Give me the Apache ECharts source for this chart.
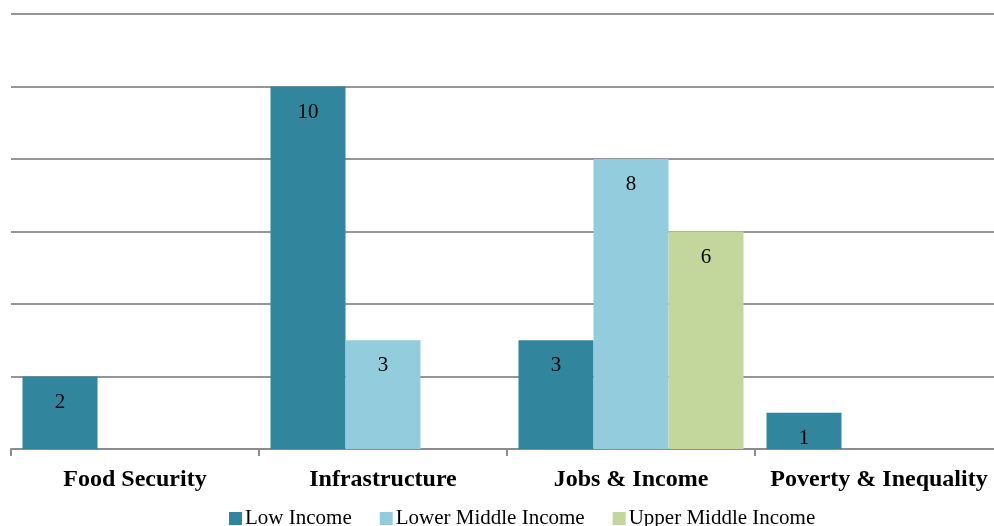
<!DOCTYPE html>
<html>
<head>
<meta charset="utf-8">
<script src="https://cdn.jsdelivr.net/npm/echarts@6/dist/echarts.min.js"></script>
<style>html,body{margin:0;padding:0;background:#fff;overflow:hidden}#c{width:1003px;height:526px}</style>
</head>
<body>
<div id="c"></div>
<script>
const categories = ['Food Security', 'Infrastructure', 'Jobs & Income', 'Poverty & Inequality'];
const lowIncome = [2, 10, 3, 1];
const lowerMiddleIncome = [null, 3, 8, null];
const upperMiddleIncome = [null, null, 6, null];
const seriesNames = ['Low Income', 'Lower Middle Income', 'Upper Middle Income'];
const colors = ['#31859C', '#93CDDD', '#C3D69B'];

const font = '"Liberation Serif", "Times New Roman", serif';
const label = {
  show: true, position: 'insideTop', distance: 15,
  color: '#000', fontFamily: font, fontSize: 21
};
const mk = (name, data, color) => ({
  name, type: 'bar', data, barWidth: 75, barGap: '0%',
  itemStyle: { color }, label
});

const chart = echarts.init(document.getElementById('c'));
chart.setOption({
  animation: false,
  grid: { left: 11, top: 14, width: 992, height: 435 },
  legend: {
    left: 224, top: 503, itemWidth: 13, itemHeight: 13, itemGap: 28,
    icon: 'rect',
    textStyle: { fontFamily: font, fontSize: 21, color: '#000', padding: [0, 0, 0, -2] }
  },
  xAxis: {
    type: 'category', data: categories,
    axisLine: { lineStyle: { color: '#8c8c8c', width: 2 } },
    axisTick: { show: true, length: 7, lineStyle: { color: '#8c8c8c', width: 2 } },
    axisLabel: { interval: 0, fontFamily: font, fontSize: 24, fontWeight: 'bold', color: '#000', margin: 19 }
  },
  yAxis: {
    type: 'value', min: 0, max: 12, interval: 2,
    axisLabel: { show: false }, axisLine: { show: false }, axisTick: { show: false },
    splitLine: { lineStyle: { color: '#969696', width: 2 } }
  },
  series: [
    mk(seriesNames[0], lowIncome, colors[0]),
    mk(seriesNames[1], lowerMiddleIncome, colors[1]),
    mk(seriesNames[2], upperMiddleIncome, colors[2])
  ]
});
</script>
</body>
</html>
